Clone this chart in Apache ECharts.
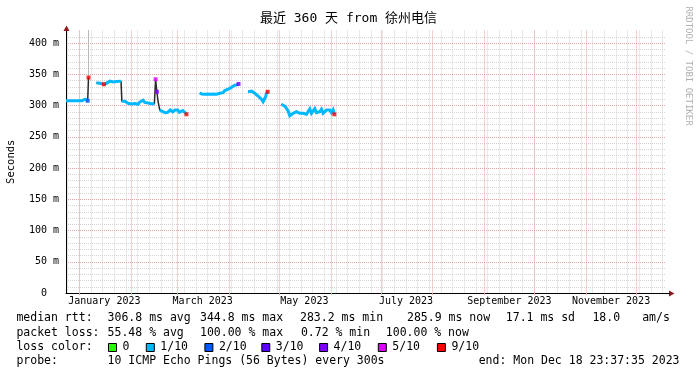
<!DOCTYPE html>
<html><head><meta charset="utf-8">
<script src="https://cdn.jsdelivr.net/npm/echarts@6/dist/echarts.min.js"></script>
<style>html,body{margin:0;padding:0;background:#fff}#c{width:697px;height:375px}</style>
</head><body><div id="c"></div>
<script>
const titleText = '最近 360 天 from 徐州电信';
const yAxisName = 'Seconds';
const startTime = '2022-12-23 23:37:35';
const endTime = '2023-12-18 23:37:35';
const monthStarts = ['2023-01-01','2023-02-01','2023-03-01','2023-04-01','2023-05-01','2023-06-01','2023-07-01','2023-08-01','2023-09-01','2023-10-01','2023-11-01','2023-12-01'];
const firstSunday = '2022-12-25';
const xTickTimes = ['2023-01-16','2023-03-16','2023-05-16','2023-07-16','2023-09-16','2023-11-16'];
const xTickLabels = ['January 2023','March 2023','May 2023','July 2023','September 2023','November 2023'];

// median rtt (ms), null = no data
const times = [
 '2022-12-24 00:00','2022-12-27 12:00','2022-12-30 12:00','2023-01-02 12:00','2023-01-03 12:00','2023-01-04 12:00','2023-01-05 12:00','2023-01-06 00:00','2023-01-06 12:00','2023-01-07 00:00',
 '2023-01-11 06:00','2023-01-12 06:00','2023-01-13 06:00','2023-01-14 06:00','2023-01-15 18:00','2023-01-17 06:00','2023-01-18 06:00','2023-01-19 06:00','2023-01-20 06:00','2023-01-21 06:00','2023-01-22 06:00','2023-01-23 06:00','2023-01-24 06:00','2023-01-26 00:00',
 '2023-01-26 12:00','2023-01-28 06:00','2023-01-29 06:00','2023-01-30 06:00','2023-01-31 06:00','2023-02-01 06:00','2023-02-02 06:00','2023-02-03 06:00','2023-02-05 06:00','2023-02-06 06:00','2023-02-07 06:00','2023-02-08 06:00','2023-02-09 06:00','2023-02-10 06:00','2023-02-11 06:00','2023-02-12 06:00','2023-02-13 06:00','2023-02-14 06:00','2023-02-15 00:00',
 '2023-02-15 18:00','2023-02-16 12:00','2023-02-17 06:00','2023-02-18 06:00',
 '2023-02-19 18:00','2023-02-21 12:00','2023-02-23 00:00','2023-02-24 12:00','2023-02-26 00:00','2023-02-27 12:00','2023-03-01 00:00','2023-03-02 00:00','2023-03-03 00:00','2023-03-04 00:00','2023-03-05 00:00','2023-03-05 18:00','2023-03-06 06:00','2023-03-07 00:00',
 '2023-03-14 06:00','2023-03-15 12:00','2023-03-17 06:00','2023-03-19 00:00','2023-03-20 18:00','2023-03-22 12:00','2023-03-24 06:00','2023-03-25 06:00','2023-03-26 06:00','2023-03-27 06:00','2023-03-28 06:00','2023-03-29 06:00','2023-03-30 06:00','2023-03-31 06:00','2023-04-01 06:00','2023-04-02 06:00','2023-04-03 06:00','2023-04-04 06:00','2023-04-05 12:00','2023-04-06 12:00','2023-04-07 00:00',
 '2023-04-12 06:00','2023-04-13 06:00','2023-04-14 06:00','2023-04-15 06:00','2023-04-16 06:00','2023-04-17 06:00','2023-04-18 06:00','2023-04-19 06:00','2023-04-20 06:00','2023-04-21 06:00','2023-04-22 00:00','2023-04-22 18:00','2023-04-23 06:00','2023-04-24 00:00','2023-04-24 12:00',
 '2023-05-02 06:00','2023-05-03 06:00','2023-05-04 06:00','2023-05-05 06:00','2023-05-06 06:00','2023-05-07 06:00','2023-05-08 06:00','2023-05-09 06:00','2023-05-10 06:00','2023-05-11 06:00','2023-05-12 06:00','2023-05-13 06:00','2023-05-14 06:00','2023-05-15 06:00','2023-05-16 06:00','2023-05-17 06:00','2023-05-18 06:00','2023-05-19 06:00','2023-05-20 06:00','2023-05-21 06:00','2023-05-22 06:00','2023-05-23 06:00','2023-05-24 06:00','2023-05-25 06:00','2023-05-26 06:00','2023-05-27 06:00','2023-05-28 06:00','2023-05-29 06:00','2023-05-30 06:00','2023-05-31 06:00','2023-06-01 06:00','2023-06-02 06:00','2023-06-03 00:00'
];
const rtt = [
 307.5,307.5,307.5,307.5,309.5,310,308,307.5,344.8,null,
 336.5,334.5,335.5,334.5,334,335.5,336,339,337.5,337.5,339,338.5,339,339,
 307,307,304.5,303.5,303.5,302.5,304,303,302,305.5,303,308.5,305,303,304,302.5,303,302,303,
 342,322,306,293,
 290.5,288.5,289,293,290,293,293,289,288.5,292,290.5,288,286,null,
 320,318.5,318,318.5,318,318.5,318,317,319.5,322,320.5,324,322,326,325,329,330,332.5,333,334.5,null,
 322,320.5,323,320.5,319.5,317,315,313,310,306,310,314,319.5,322,null,
 302,303,299,295.5,291.5,283.5,286,287.5,290,290,287.5,287.5,288.5,287.5,287.5,286,288.5,294.5,287.5,288.5,295,288.5,286,290,294,287.5,287.5,293,290,293,288.5,293,285.9
];
// points with packet loss (level index into lossColors)
const lossTimes = ['2023-01-06 00:00','2023-01-06 12:00','2023-01-15 18:00','2023-02-15 18:00','2023-02-16 12:00','2023-03-06 06:00','2023-04-06 12:00','2023-04-24 00:00','2023-06-03 00:00'];
const lossValues = [307.5,344.8,334,342,322,286,334.5,322,285.9];
const lossLevels = [2,6,6,5,4,6,4,6,6];
// smoke spike (max ping beyond the top)
const smokeTimes = ['2023-01-06 12:00'];
const smokeLow = [344.8];
const smokeHigh = [430];

const lossLabels = ['0','1/10','2/10','3/10','4/10','5/10','9/10'];
const lossColors = ['#26ff00','#00b8ff','#0059ff','#5e00ff','#7e00ff','#dd00ff','#ff0000'];
const statLines = [
  ['median rtt:', '306.8 ms avg', '344.8 ms max', '283.2 ms min', '285.9 ms now', '17.1 ms sd', '18.0', 'am/s'],
  ['packet loss:', '55.48 % avg', '100.00 % max', '0.72 % min', '100.00 % now'],
  ['probe:', '10 ICMP Echo Pings (56 Bytes) every 300s', 'end: Mon Dec 18 23:37:35 2023']
];

function ts(s){
  const [d, t = '00:00:00'] = s.split(' ');
  const [Y, M, D] = d.split('-').map(Number);
  const [h, m, sec = 0] = t.split(':').map(Number);
  return new Date(Y, M - 1, D, h, m, sec).getTime();
}
const DAY = 86400000;
const tMin = ts(startTime), tMax = ts(endTime);
const weekStarts = [];
for (let t = ts(firstSunday); t <= tMax; t += 7 * DAY) {
  const d = new Date(t); weekStarts.push(new Date(d.getFullYear(), d.getMonth(), d.getDate()).getTime());
}
const labelTs = xTickTimes.map(ts);

const fullData = times.map((t, i) => [ts(t), rtt[i]]);
const cyanData = [];
for (let i = 0; i < times.length; i++) {
  if (i > 0 && rtt[i] != null && rtt[i-1] != null && Math.abs(rtt[i] - rtt[i-1]) > 10) {
    cyanData.push([(ts(times[i]) + ts(times[i-1])) / 2, null]);
  }
  cyanData.push([ts(times[i]), rtt[i]]);
}

const mono = '"DejaVu Sans Mono", monospace';
const chart = echarts.init(document.getElementById('c'), null, {renderer: 'canvas'});

const graphic = [];
graphic.push({type: 'polygon', shape: {points: [[66.5, 25.5], [63.5, 31], [69.5, 31]]}, style: {fill: '#8e1b1b'}, z: 10});
graphic.push({type: 'polygon', shape: {points: [[674.5, 293.5], [669, 290.5], [669, 296.5]]}, style: {fill: '#8e1b1b'}, z: 10});
graphic.push({type: 'line', shape: {x1: 666, y1: 293.5, x2: 670, y2: 293.5}, style: {stroke: '#000', lineWidth: 1}, z: 10});
graphic.push({type: 'text', x: 688, y: 66, rotation: -Math.PI / 2, style: {text: 'RRDTOOL / TOBI OETIKER', font: '9px ' + mono, fill: '#b0b0b0', align: 'center', verticalAlign: 'middle'}});
const legendFont = '11.5px ' + mono;
const lineY = [318.5, 333, 361.5];
const lineX = [
  [16.4, 107.6, 200, 300, 407, 505.8, 592.4, 642.2],
  [16.4, 107.6, 200, 300.9, 385.8],
  [16.4, 107.6, 478.7]
];
statLines.forEach((row, r) => row.forEach((txt, k) => {
  graphic.push({type: 'text', x: lineX[r][k], y: lineY[r], style: {text: txt, font: legendFont, fill: '#000', verticalAlign: 'middle'}});
}));
graphic.push({type: 'text', x: 16.4, y: 347.5, style: {text: 'loss color:', font: legendFont, fill: '#000', verticalAlign: 'middle'}});
const swatchX = [108, 145.8, 204.4, 261.3, 319.1, 377.8, 436.9];
lossLabels.forEach((lab, i) => {
  graphic.push({type: 'rect', shape: {x: swatchX[i] + 0.5, y: 343.5, width: 8, height: 8}, style: {fill: lossColors[i], stroke: '#000', lineWidth: 1}});
  graphic.push({type: 'text', x: swatchX[i] + 14.5, y: 347.5, style: {text: lab, font: legendFont, fill: '#000', verticalAlign: 'middle'}});
});

const gridGray = '#d4d4d4';
const gridRed = '#e9a3a3';
const option = {
  animation: false,
  backgroundColor: '#ffffff',
  title: {text: titleText, left: 'center', top: 7, textStyle: {fontFamily: '"DejaVu Sans Mono", "Noto Sans CJK SC"', fontSize: 13, fontWeight: 'normal', color: '#000'}},
  grid: {left: 66, right: 31, top: 30.5, bottom: 82, containLabel: false, outerBoundsMode: 'none'},
  xAxis: [
    {type: 'value', min: tMin, max: tMax, z: 1,
     axisLine: {show: true, lineStyle: {color: '#000', width: 1}},
     axisTick: {show: true, customValues: monthStarts.map(ts), length: 2, lineStyle: {color: gridRed}},
     splitLine: {show: true, lineStyle: {color: gridRed, width: 1, type: [1, 1]}},
     axisLabel: {customValues: labelTs, hideOverlap: false, showMinLabel: true, showMaxLabel: true, margin: 3, fontFamily: mono, fontSize: 10, color: '#000',
       formatter: v => { const i = labelTs.indexOf(v); return i >= 0 ? xTickLabels[i] : ''; }}},
    {type: 'value', min: tMin, max: tMax, z: 0, position: 'bottom',
     axisLine: {show: false}, axisLabel: {show: false},
     axisTick: {show: false, customValues: weekStarts},
     splitLine: {show: true, lineStyle: {color: gridGray, width: 1, type: [1, 1]}}}
  ],
  yAxis: [
    {type: 'value', min: 0, max: 420, interval: 50, z: 1,
     name: yAxisName, nameLocation: 'middle', nameGap: 49, nameTextStyle: {fontFamily: mono, fontSize: 10.5, color: '#000'},
     axisLine: {show: true, lineStyle: {color: '#000', width: 1}}, axisTick: {show: false},
     splitLine: {show: true, showMaxLine: false, lineStyle: {color: gridRed, width: 1, type: [1, 1]}},
     axisLabel: {showMaxLabel: false, margin: 7, fontFamily: mono, fontSize: 10, color: '#000', formatter: v => v === 0 ? '0  ' : v + ' m'}},
    {type: 'value', min: 0, max: 420, interval: 10, z: 0,
     axisLine: {show: false}, axisTick: {show: false}, axisLabel: {show: false},
     splitLine: {show: true, showMaxLine: false, lineStyle: {color: gridGray, width: 1, type: [1, 1]}}}
  ],
  series: [
    {type: 'line', name: 'smoke', xAxisIndex: 0, yAxisIndex: 0, z: 2, silent: true, showSymbol: false,
     data: smokeTimes.flatMap((t, i) => [[ts(t), smokeLow[i]], [ts(t), smokeHigh[i]]]),
     lineStyle: {color: '#b8b8b8', width: 1}},
    {type: 'line', name: 'connect', xAxisIndex: 0, yAxisIndex: 0, z: 3, silent: true, showSymbol: false, connectNulls: false,
     data: fullData, lineStyle: {color: '#2a2a2a', width: 1.5}},
    {type: 'line', name: 'median', xAxisIndex: 0, yAxisIndex: 0, z: 4, silent: true, showSymbol: false, connectNulls: false,
     data: cyanData, lineStyle: {color: '#00b8ff', width: 3, cap: 'butt', join: 'miter'}},
    {type: 'scatter', name: 'loss', xAxisIndex: 0, yAxisIndex: 0, z: 5, silent: true, symbol: 'rect', symbolSize: 4,
     data: lossTimes.map((t, i) => ({value: [ts(t), lossValues[i]], itemStyle: {color: lossColors[lossLevels[i]]}}))}
  ],
  graphic: graphic
};
chart.setOption(option);
</script></body></html>
